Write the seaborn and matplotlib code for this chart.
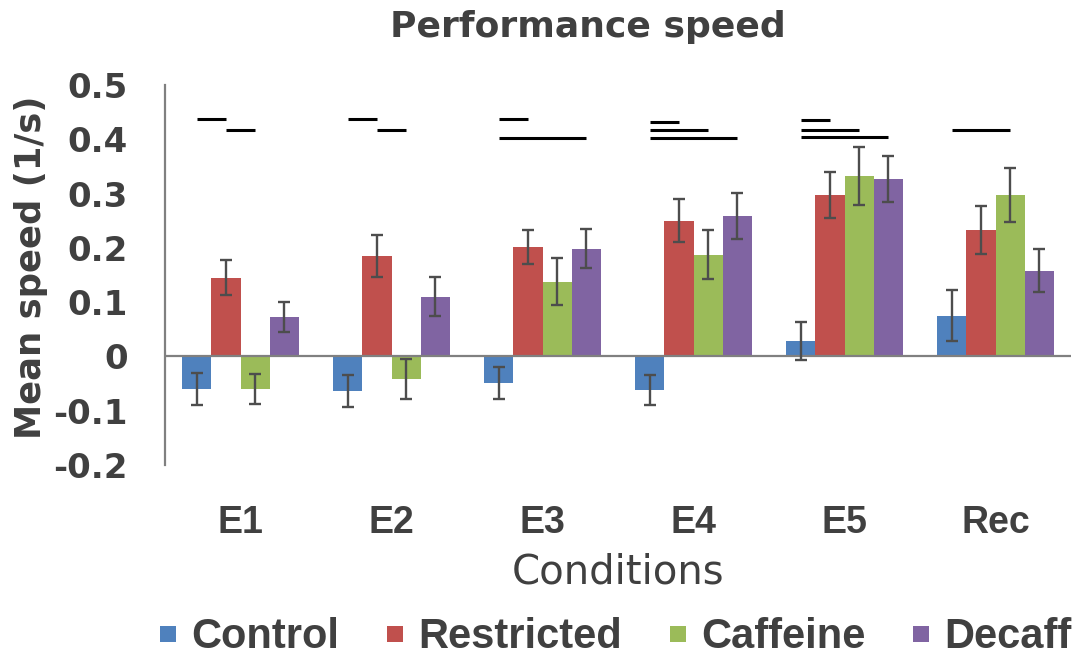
import matplotlib
matplotlib.use("Agg")
import matplotlib.pyplot as plt
import seaborn as sns
import pandas as pd
import numpy as np
from matplotlib.lines import Line2D

# ---- data ----
conditions = ["E1", "E2", "E3", "E4", "E5", "Rec"]
groups = ["Control", "Restricted", "Caffeine", "Decaff"]

control = [-0.060, -0.064, -0.049, -0.062, 0.029, 0.075]
restricted = [0.145, 0.185, 0.202, 0.250, 0.297, 0.233]
caffeine = [-0.060, -0.042, 0.138, 0.187, 0.332, 0.297]
decaff = [0.073, 0.110, 0.198, 0.259, 0.327, 0.158]

control_err = [0.029, 0.030, 0.029, 0.028, 0.035, 0.047]
restricted_err = [0.032, 0.038, 0.031, 0.040, 0.042, 0.044]
caffeine_err = [0.028, 0.037, 0.044, 0.045, 0.053, 0.050]
decaff_err = [0.028, 0.036, 0.036, 0.042, 0.043, 0.040]

ytick_values = [0.5, 0.4, 0.3, 0.2, 0.1, 0.0, -0.1, -0.2]
ytick_labels = ["0.5", "0.4", "0.3", "0.2", "0.1", "0", "-0.1", "-0.2"]

# significance bars: (condition, from group, to group, level)
sig_lines = [
    ("E1", "Control", "Restricted", 0.437),
    ("E1", "Restricted", "Caffeine", 0.418),
    ("E2", "Control", "Restricted", 0.437),
    ("E2", "Restricted", "Caffeine", 0.418),
    ("E3", "Control", "Restricted", 0.437),
    ("E3", "Control", "Decaff", 0.402),
    ("E4", "Control", "Restricted", 0.432),
    ("E4", "Control", "Caffeine", 0.418),
    ("E4", "Control", "Decaff", 0.402),
    ("E5", "Control", "Restricted", 0.435),
    ("E5", "Control", "Caffeine", 0.418),
    ("E5", "Control", "Decaff", 0.404),
    ("Rec", "Control", "Caffeine", 0.418),
]

colors = ["#4F81BD", "#C0504D", "#9BBB59", "#8064A2"]
text_color = "#404040"
axis_color = "#808080"

values = {"Control": control, "Restricted": restricted,
          "Caffeine": caffeine, "Decaff": decaff}
errors = {"Control": control_err, "Restricted": restricted_err,
          "Caffeine": caffeine_err, "Decaff": decaff_err}

df = pd.DataFrame({
    "Condition": conditions * len(groups),
    "Group": np.repeat(groups, len(conditions)),
    "Speed": control + restricted + caffeine + decaff,
})

sns.set_style("white")
plt.rcParams["font.family"] = ["DejaVu Sans"]
plt.rcParams["text.color"] = text_color
plt.rcParams["axes.labelcolor"] = text_color
plt.rcParams["xtick.color"] = text_color
plt.rcParams["ytick.color"] = text_color

fig = plt.figure(figsize=(10.76, 6.58), dpi=100)
ax = fig.add_axes([165 / 1076, 1 - 465 / 658, (1071 - 165) / 1076, (465 - 85) / 658])

sns.barplot(data=df, x="Condition", y="Speed", hue="Group",
            order=conditions, hue_order=groups, palette=colors,
            saturation=1, width=0.77, errorbar=None, linewidth=0,
            legend=False, ax=ax, zorder=2)

# error bars and bar centre lookup
centers = {}
for g, cont in zip(groups, ax.containers):
    xs = [p.get_x() + p.get_width() / 2 for p in cont.patches]
    for c, x in zip(conditions, xs):
        centers[(c, g)] = x
    ax.errorbar(xs, values[g], yerr=errors[g], fmt="none",
                ecolor="#4d4d4d", elinewidth=1.7, capsize=4, capthick=1.7,
                zorder=4)

# significance lines
for c, g1, g2, lvl in sig_lines:
    ax.plot([centers[(c, g1)], centers[(c, g2)]], [lvl, lvl],
            color="black", lw=2.2, solid_capstyle="butt", zorder=5)

ax.axhline(0, color=axis_color, lw=1.6, zorder=3)

ax.set_xlim(-0.5, len(conditions) - 0.5)
ax.set_ylim(-0.2, 0.5)
ax.set_yticks(ytick_values)
ax.set_yticklabels(ytick_labels, fontsize=24.5, fontweight="bold")
ax.set_xticks(range(len(conditions)))
ax.set_xticklabels(conditions, fontsize=27, fontweight="bold",
                   family=["Liberation Sans", "DejaVu Sans"])

for s in ["top", "right", "bottom"]:
    ax.spines[s].set_visible(False)
ax.spines["left"].set_color(axis_color)
ax.spines["left"].set_linewidth(1.6)
ax.tick_params(axis="y", direction="out", length=8.6, width=1.6,
               color=axis_color, pad=18)
ax.tick_params(axis="x", length=0, pad=29)

ax.set_xlabel("Conditions", fontsize=29, labelpad=8)
ax.set_ylabel("Mean speed (1/s)", fontsize=25.5, fontweight="bold")
ax.yaxis.set_label_coords((48 - 165) / 906, (465 - 267) / 380)

fig.text(588 / 1076, 1 - 37 / 658, "Performance speed", ha="center",
         va="baseline", fontsize=26, fontweight="bold", color=text_color)

handles = [Line2D([], [], marker="s", linestyle="none", markersize=11.5,
                  markerfacecolor=c, markeredgewidth=0) for c in colors]
fig.legend(handles, groups, loc="lower center",
           bbox_to_anchor=(615 / 1076, 0.0), ncol=4, frameon=False,
           prop={"family": ["Liberation Sans", "DejaVu Sans"],
                 "weight": "bold", "size": 30},
           handlelength=0.45, handletextpad=0.33,
           columnspacing=1.12, borderpad=0.02, borderaxespad=0)

fig.savefig("out.png", dpi=100)
